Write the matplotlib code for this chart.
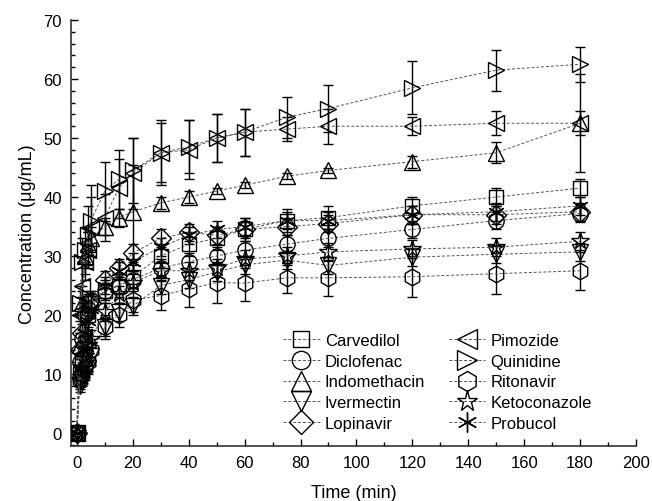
#!/usr/bin/env python3
"""Dissolution profiles: concentration vs time for ten drugs (Origin-style)."""
import matplotlib
matplotlib.use("Agg")
import matplotlib.pyplot as plt
from matplotlib.ticker import MultipleLocator

plt.rcParams.update({
    "font.family": ["Liberation Sans", "DejaVu Sans"],
    "font.size": 12,
    "xtick.direction": "in",
    "ytick.direction": "in",
    "axes.spines.top": False,
    "axes.spines.right": False,
})

# sampling times (min)
time = [0, 1, 2, 3, 4, 5, 10, 15, 20, 30, 40, 50, 60, 75, 90, 120, 150, 180]

carvedilol = [0, 10, 12, 15, 20, 22, 24, 25, 26.5, 30, 32, 33, 34.5, 36, 36.5, 38.5, 40, 41.5]
carvedilol_err = [0, 1.5, 1.5, 2, 2, 2, 2, 2, 2, 2, 2, 2, 2, 2, 2, 1.5, 1.5, 1.5]
diclofenac = [0, 12, 16, 20, 21, 22.5, 24, 25, 26, 28, 29, 30, 31, 32, 33, 34.5, 36, 37.2]
diclofenac_err = [0, 1.5, 1.5, 1.5, 1.5, 1.5, 1.5, 1.5, 1.5, 1.5, 1.5, 1.5, 1.5, 1.5, 1.5, 1.5, 1.5, 1.5]
indomethacin = [0, 15, 22, 30, 32, 33, 35, 36.5, 37.5, 39, 40, 41, 42, 43.5, 44.5, 46, 47.5, 52.5]
indomethacin_err = [0, 2, 2, 2, 2, 2, 1.5, 1.5, 8, 1, 1, 0.5, 0.5, 0.5, 0.5, 1, 1.8, 8.3]
ivermectin = [0, 8, 9, 10, 11, 13, 18, 20.5, 21.5, 25, 26, 27.3, 28.5, 29.3, 28.4, 29.8, 30.3, 30.7]
ivermectin_err = [0, 1, 1, 1, 1, 1.5, 1.5, 1.5, 1.5, 1.5, 1.5, 1.5, 1.5, 1.5, 1.5, 1.5, 1.5, 1.5]
lopinavir = [0, 14, 17, 20, 22, 22, 26, 28, 30.5, 33, 34, 33.5, 34.5, 35, 35.5, 37, 37, 37.5]
lopinavir_err = [0, 1.5, 1.5, 1.5, 1.5, 1.5, 1.5, 1.5, 1.5, 1.5, 1.5, 1.5, 1.5, 1.5, 1.5, 1.5, 1.5, 1.5]
pimozide = [0, 20, 25, 29, 31, 35, 36.5, 41.5, 44, 47.5, 48, 50, 51, 51.5, 52, 52, 52.5, 52.5]
pimozide_err = [0, 3, 4, 3, 3, 5, 4, 5, 6, 5, 5, 4, 4, 2, 3, 1.5, 2, 2]
quinidine = [0, 22, 29, 31, 33.5, 36, 41, 43, 44.5, 47.5, 48.5, 50, 51, 53.5, 55, 58.5, 61.5, 62.5]
quinidine_err = [0, 3, 4, 4, 5, 6, 5, 5, 5.5, 5.5, 4.5, 4, 4, 3.5, 4, 4.5, 3.5, 3]
ritonavir = [0, 9, 10, 11, 12, 14, 18, 20, 22.5, 23.3, 24.4, 25.5, 25.4, 26.3, 26.3, 26.5, 27, 27.5]
ritonavir_err = [0, 1.5, 1.5, 1.5, 1.5, 2, 2, 2, 2, 2.5, 3, 3.5, 3, 2.5, 3, 3.5, 3.5, 3.2]
ketoconazole = [0, 9, 11, 13, 15, 16, 20.5, 23.5, 25.5, 27.5, 27.5, 28, 29.5, 30, 30.7, 31.2, 31.5, 32.5]
ketoconazole_err = [0, 1, 1, 1, 1, 1.5, 1.5, 1.5, 1.5, 1.5, 1.5, 1.5, 1.5, 1.5, 1.5, 1.5, 1.5, 1.5]
probucol = [0, 11, 14, 17, 19, 21, 25, 27.5, 29, 31.5, 33.5, 34.5, 35, 36, 36, 37, 37.5, 38.5]
probucol_err = [0, 1.5, 1.5, 1.5, 1.5, 1.5, 1.5, 1.5, 1.5, 1.5, 1.5, 1.5, 1.5, 1.5, 1.5, 1.5, 1.5, 1.5]

names = ["Carvedilol", "Diclofenac", "Indomethacin", "Ivermectin", "Lopinavir",
         "Pimozide", "Quinidine", "Ritonavir", "Ketoconazole", "Probucol"]
values = [carvedilol, diclofenac, indomethacin, ivermectin, lopinavir,
          pimozide, quinidine, ritonavir, ketoconazole, probucol]
errors = [carvedilol_err, diclofenac_err, indomethacin_err, ivermectin_err, lopinavir_err,
          pimozide_err, quinidine_err, ritonavir_err, ketoconazole_err, probucol_err]
markers = ["s", "o", "^", "v", "D", "<", ">", "h", "*", (6, 2, 0)]
sizes = [10, 11, 12, 12, 10, 12, 12, 12, 13, 12]

fig = plt.figure(figsize=(6.52, 5.02), dpi=100)
ax = fig.add_axes([71 / 652, 55 / 502, 565 / 652, 426 / 502])

for name, y, e, m, ms in zip(names, values, errors, markers, sizes):
    ax.errorbar(time, y, yerr=e, fmt="none", ecolor="black", elinewidth=1,
                capsize=3.8, capthick=1, zorder=2)
    ax.plot(time, y, linestyle=(0, (3, 2)), color="#555555", linewidth=0.7,
            marker=m, markersize=ms, markerfacecolor="none", markeredgecolor="black",
            markeredgewidth=1, label=name, zorder=3)

ax.set_xlim(-2.1, 200)
ax.set_ylim(-2.2, 70)
ax.xaxis.set_major_locator(MultipleLocator(20))
ax.xaxis.set_minor_locator(MultipleLocator(10))
ax.yaxis.set_major_locator(MultipleLocator(10))
ax.yaxis.set_minor_locator(MultipleLocator(2))
ax.tick_params(which="major", length=5, width=1, labelsize=12, pad=6.5)
ax.tick_params(which="minor", length=3, width=1)
for s in ("left", "bottom"):
    ax.spines[s].set_linewidth(1.2)
    ax.spines[s].set_color("#333333")

ax.set_xlabel("Time (min)", fontsize=13, labelpad=10)
ax.set_ylabel("Concentration (μg/mL)", fontsize=13, labelpad=5)

ax.legend(ncol=2, frameon=False, fontsize=12, loc="upper left",
          bbox_to_anchor=(283 / 652, 1 - 334 / 502), bbox_transform=fig.transFigure,
          borderpad=0, borderaxespad=0, handlelength=2.2, handletextpad=0.32,
          labelspacing=0.34, columnspacing=1.4, markerscale=1.2)

fig.savefig("out.png", dpi=100)
